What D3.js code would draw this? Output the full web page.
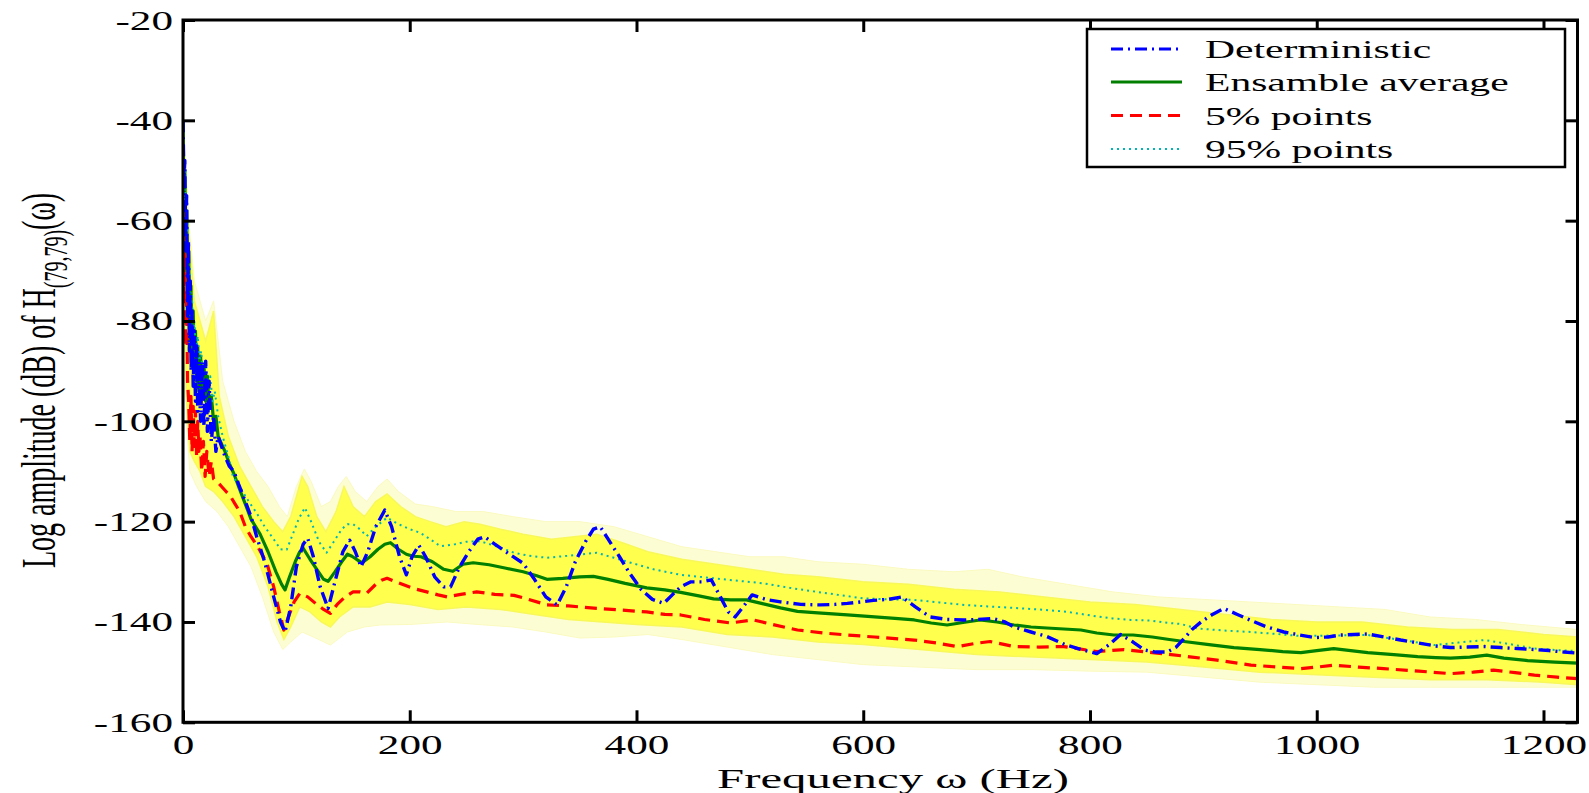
<!DOCTYPE html>
<html>
<head>
<meta charset="utf-8">
<script src="https://cdn.jsdelivr.net/npm/d3@7"></script>
<style>
  html, body { margin: 0; padding: 0; background: #fff; }
  svg { display: block; }
  text { font-family: "Liberation Serif", "Times New Roman", serif; fill: #000; }
</style>
</head>
<body>
<svg id="chart" width="1589" height="793"></svg>
<script>
// ---------- data ----------
const xTicks = [0, 200, 400, 600, 800, 1000, 1200];
const yTicks = [-160, -140, -120, -100, -80, -60, -40, -20];
const seriesNames = ["Deterministic", "Ensamble average", "5% points", "95% points"];
const xLabel = "Frequency \u03c9 (Hz)";

const deterministic = [[0,-40],[0.8,-52],[1.6,-48],[2.4,-66],[3.2,-55],[4,-79],[4.8,-64],[5.6,-86],[6.4,-72],[7.2,-90],[8,-78],[9,-93],[10,-82],[11,-96],[12,-85],[13,-98],[14,-88],[15.5,-100],[17,-88],[18.5,-101],[20,-88],[21.5,-102],[23,-92],[25,-104],[27,-99],[29,-106],[31,-103],[34,-105],[37,-107],[41,-109],[45,-110],[49,-112.5],[55,-116],[60,-119],[65,-123],[72,-128],[80,-135],[86,-140],[90,-142],[95,-137],[100,-129],[106,-124.5],[110,-123.3],[115,-127],[121,-133],[128,-137.3],[134,-132],[141,-126],[147,-123.7],[152,-126],[157,-129],[163,-126],[170,-121],[178,-117.7],[184,-121],[191,-127],[197,-130.6],[202,-127],[208,-124.7],[214,-127],[222,-131],[230,-133],[236,-133],[244,-129],[252,-126],[260,-123.5],[266,-123],[275,-124.5],[288,-126.5],[300,-128.3],[310,-131.5],[320,-135],[330,-136.6],[338,-133],[346,-128],[355,-124],[362,-121.5],[368,-121],[375,-123.5],[385,-127],[394,-130.3],[404,-133.5],[414,-135.5],[424,-136.3],[432,-134.5],[439,-133],[448,-132],[458,-132],[466,-131.6],[474,-135],[481,-138],[487,-139],[494,-137],[502,-134.6],[514,-135.5],[527,-136],[545,-136.5],[562,-136.6],[575,-136.5],[586,-136.3],[598,-136],[609,-135.7],[622,-135.5],[634,-135],[646,-137],[659,-139],[674,-139.5],[689,-139.6],[700,-139.5],[714,-139.3],[725,-140],[733,-141],[748,-142],[762,-142.9],[778,-144.5],[792,-145.5],[806,-146.3],[817,-144.5],[827,-142.5],[838,-144],[848,-145.6],[858,-146],[868,-146],[876,-145],[883,-143.3],[890,-141.5],[898,-140],[908,-138.5],[918,-137.3],[930,-138.5],[942,-139.7],[956,-141],[971,-142],[985,-142.6],[998,-143.1],[1010,-143],[1021,-142.6],[1033,-142.5],[1045,-142.4],[1060,-143],[1074,-143.6],[1090,-144.2],[1105,-144.8],[1118,-145.1],[1133,-145],[1148,-144.9],[1162,-145.1],[1177,-145.3],[1192,-145.5],[1205,-145.7],[1218,-146],[1230,-146.2]];

const ensembleAverage = [[0,-40],[0.8,-60],[1.6,-50],[2.4,-70],[3.2,-58],[4,-78],[5,-66],[6,-84],[7,-73],[8,-88],[9,-78],[10,-90],[11,-82],[12,-92],[13,-85],[14,-94],[15.5,-87],[17,-95],[18.5,-89],[20,-96],[21.5,-91],[23,-97],[25,-95],[27,-100],[29,-99],[31,-103],[33,-104],[37,-106],[41,-108.5],[45,-110.5],[49,-113],[55,-116.5],[60,-119.5],[68,-122.5],[75,-126],[82,-130],[87,-132.5],[90,-133.6],[94,-131],[99,-128],[103,-126],[106,-125.3],[112,-127.5],[118,-129.5],[124,-131.5],[128,-131.9],[134,-130],[140,-128],[145,-126.5],[149,-126.9],[153,-127.5],[158,-128.2],[165,-127],[172,-125.5],[178,-124.5],[183,-124.2],[190,-125.5],[197,-126.5],[203,-126.9],[210,-127],[220,-128],[230,-129.5],[238,-129.9],[247,-128.5],[256,-128.2],[270,-128.6],[285,-129.3],[300,-130],[312,-130.8],[321,-131.5],[335,-131.3],[350,-131],[362,-130.9],[375,-131.5],[390,-132.3],[409,-133.2],[425,-133.6],[439,-134.1],[455,-134.8],[468,-135.4],[483,-135.6],[497,-135.6],[512,-136.4],[527,-137.2],[542,-137.9],[560,-138.2],[586,-138.6],[610,-139],[628,-139.3],[645,-139.6],[660,-140.2],[674,-140.6],[688,-140.1],[703,-139.6],[718,-140],[733,-140.6],[748,-141],[762,-141.2],[777,-141.4],[792,-141.6],[806,-142.2],[821,-142.6],[838,-142.6],[855,-143],[870,-143.5],[883,-143.9],[905,-144.5],[927,-145.1],[950,-145.5],[970,-145.9],[986,-146.1],[1000,-145.7],[1015,-145.3],[1030,-145.7],[1045,-146.1],[1068,-146.5],[1089,-146.9],[1105,-147.1],[1118,-147.2],[1135,-147],[1150,-146.6],[1165,-147.2],[1186,-147.7],[1210,-148],[1230,-148.2]];

const points5 = [[0,-58],[0.8,-75],[1.6,-66],[2.4,-85],[3.2,-74],[4,-92],[5,-96],[6,-104],[7,-95],[8,-106],[9,-97],[10,-105],[11,-98],[12,-107],[13,-100],[14,-106],[15,-103],[16.5,-110],[18,-104],[19.5,-111],[21,-106],[23,-111],[25,-108],[27,-111.5],[30,-112],[34,-113],[38,-114],[42,-115],[46,-116.5],[50,-118],[55,-121],[60,-123],[66,-125],[74,-128.3],[80,-133],[85,-138],[89,-141.6],[93,-139],[98,-136],[103,-134.3],[110,-135],[118,-136.5],[124,-137.5],[130,-138.3],[136,-136.5],[143,-135],[150,-134],[156,-134],[162,-134.3],[170,-132.5],[175,-131.7],[180,-131.3],[190,-132.2],[203,-133.3],[215,-134],[225,-134.6],[233,-135],[245,-134.5],[259,-134],[275,-134.5],[292,-134.7],[305,-135.5],[321,-136.6],[340,-136.8],[365,-137.3],[385,-137.6],[409,-138],[425,-138.5],[439,-138.6],[460,-139.5],[483,-140.2],[503,-139.6],[520,-140.5],[542,-141.6],[565,-142.2],[586,-142.6],[610,-143],[645,-143.6],[665,-144.2],[683,-144.9],[698,-144.3],[712,-143.9],[733,-144.9],[755,-145],[777,-144.9],[806,-145.9],[830,-145.5],[850,-146],[868,-146.4],[890,-147],[912,-147.6],[942,-148.6],[966,-149],[986,-149.3],[1000,-149],[1015,-148.6],[1037,-149],[1059,-149.3],[1090,-149.8],[1118,-150.3],[1138,-150],[1156,-149.6],[1175,-150.1],[1192,-150.6],[1212,-151],[1230,-151.3]];

const points95 = [[0,-40],[1,-56],[2,-50],[3,-66],[4,-60],[5,-74],[6,-69],[7,-80],[8,-75],[9,-84],[10,-80],[11.5,-86],[13,-83],[14.5,-88],[16,-86],[18,-91],[20,-88],[22,-93],[24,-91],[26,-96],[28,-94],[31,-99],[35,-103],[40,-107],[44,-111],[50,-113],[58,-116],[65,-118.3],[72,-121],[80,-123.5],[86,-125.5],[91.5,-125.6],[96,-123],[102,-119.5],[107.5,-117.2],[113,-120],[120,-124],[126.6,-126.2],[133,-124],[140,-121.5],[145,-120.5],[150,-120.5],[156,-121.5],[162,-122.9],[170,-121],[180,-119.2],[190,-120.5],[200,-121.5],[209,-122.2],[218,-123.5],[227,-124.9],[240,-124.5],[250,-124],[262,-123.9],[275,-124.8],[292,-126.2],[305,-126.8],[321,-127.2],[340,-126.8],[365,-126.2],[380,-127.2],[395,-128.2],[415,-129.5],[439,-130.6],[468,-131.3],[490,-131.8],[512,-132.3],[535,-133.2],[556,-133.9],[578,-134.6],[600,-135.3],[622,-135.5],[645,-135.6],[667,-136.1],[689,-136.6],[710,-136.9],[733,-137.2],[755,-137.5],[777,-137.9],[792,-138.4],[806,-138.9],[820,-139.3],[836,-139.6],[853,-139.7],[870,-140.2],[880,-140.4],[895,-141.3],[918,-141.7],[942,-142],[965,-142.4],[986,-142.8],[1015,-142.7],[1045,-142.6],[1075,-143.6],[1104,-144.6],[1125,-144.1],[1148,-143.6],[1170,-144.4],[1192,-145.3],[1212,-145.6],[1230,-145.8]];

// spread of the individual realisations (yellow): dense core and faint outer envelope
const coreUpper = [[0,-40],[5,-62],[10,-76],[15,-80],[20,-84],[27,-78],[32,-95],[40,-103],[50,-109],[60,-113],[70,-117],[80,-120],[88,-122],[95,-119],[100,-115],[105,-111],[110,-113],[118,-119],[126,-122],[135,-118],[142,-113],[150,-117],[160,-119],[170,-116],[180,-114.5],[192,-117],[205,-119],[218,-120],[232,-121],[248,-120],[262,-120.5],[280,-121.5],[300,-122.5],[325,-123.5],[345,-123],[365,-122.5],[385,-124],[410,-126],[440,-127.5],[470,-128.5],[500,-129.5],[530,-130.5],[560,-131],[600,-132],[640,-132.5],[680,-133.5],[720,-134],[760,-135],[800,-136],[840,-136.5],[880,-137.5],[920,-138.5],[960,-139.5],[1000,-140],[1040,-140],[1080,-141],[1120,-141.5],[1160,-141.5],[1200,-142.5],[1230,-143]];
const coreLower = [[0,-60],[3,-95],[6,-106],[10,-108],[15,-110],[20,-113],[27,-114],[35,-116],[45,-119],[55,-123],[65,-127],[75,-133],[83,-140],[89,-143.5],[95,-141],[103,-137],[112,-138],[122,-140],[130,-141],[138,-139],[150,-137],[165,-137],[180,-136],[200,-136.5],[225,-137.5],[250,-137],[280,-137.5],[310,-138.5],[340,-139.5],[370,-140],[400,-140.5],[440,-141],[480,-142.5],[520,-143],[560,-144],[600,-144.5],[650,-145.5],[700,-146.5],[750,-147],[800,-147.5],[850,-148],[900,-149],[950,-150],[1000,-150.5],[1050,-151],[1100,-151.5],[1150,-151.5],[1200,-152],[1230,-152.5]];
const haloUpper = [[0,-40],[5,-60],[10,-72],[15,-76],[20,-80],[27,-76],[35,-92],[45,-100],[55,-106],[65,-110],[75,-113],[85,-117],[92,-119],[100,-113],[107,-109.5],[113,-112],[122,-117],[130,-116],[137,-113],[144,-111],[152,-114],[162,-116],[172,-113],[180,-111.5],[190,-114],[205,-116.5],[220,-117],[241,-118],[265,-118],[291,-119],[320,-120],[350,-120],[380,-121],[410,-123],[440,-125],[470,-126],[500,-127],[530,-127],[560,-128],[600,-128.5],[640,-129.5],[680,-130],[710,-129.5],[740,-131],[780,-132.5],[820,-134],[860,-135],[900,-135.5],[940,-136],[980,-136.5],[1020,-137],[1060,-137.5],[1100,-139],[1140,-139.5],[1180,-140.5],[1230,-141.5]];
const haloLower = [[0,-62],[3,-100],[6,-110],[12,-113],[20,-116],[30,-118],[40,-121],[50,-125],[60,-129],[70,-135],[80,-142],[88,-145.5],[95,-144],[105,-142],[115,-143],[130,-144.6],[145,-142],[160,-141],[174,-140.6],[200,-140.5],[233,-140],[260,-140.5],[291,-141],[320,-142],[350,-143.2],[380,-143],[410,-142.5],[440,-143.5],[480,-145],[520,-146.5],[560,-147.5],[600,-148.5],[650,-149],[700,-149.5],[750,-149.5],[800,-149.8],[850,-150],[900,-151],[950,-152],[1000,-152.5],[1050,-153],[1100,-153],[1150,-153],[1200,-153],[1230,-153]];

// ---------- drawing ----------
const svg = d3.select("#chart");
const X0 = 183, X1 = 1577.5, Y0 = 20, Y1 = 722.3;
const SX = 1.6; // horizontal glyph stretch of the original figure

const x = d3.scaleLinear().domain([0, 1230]).range([X0, X1]);
const y = d3.scaleLinear().domain([-160, -20]).range([Y1, Y0]);

svg.append("defs").append("clipPath").attr("id", "clip")
  .append("rect").attr("x", X0).attr("y", Y0).attr("width", X1 - X0).attr("height", Y1 - Y0);

const plot = svg.append("g").attr("clip-path", "url(#clip)");

function bandPath(upper, lower) {
  const pts = upper.map(d => [x(d[0]), y(d[1])])
    .concat(lower.slice().reverse().map(d => [x(d[0]), y(d[1])]));
  return d3.line()(pts) + "Z";
}
plot.append("path").attr("d", bandPath(haloUpper, haloLower))
  .attr("fill", "#fdfdd4").attr("stroke", "#fafac0").attr("stroke-width", 1);
plot.append("path").attr("d", bandPath(coreUpper, coreLower))
  .attr("fill", "#ffff4d").attr("stroke", "#f8f85a").attr("stroke-width", 1.5);

const line = d3.line().x(d => x(d[0])).y(d => y(d[1]));

const styles = [
  { data: ensembleAverage, color: "#007f00", width: 3.2, dash: null },
  { data: points5, color: "#ff0000", width: 3.2, dash: "12,7" },
  { data: points95, color: "#00b5b5", width: 2, dash: "2,4" },
  { data: deterministic, color: "#0000ff", width: 3.4, dash: "12,5,2,5" }
];
styles.forEach(s => {
  plot.append("path").datum(s.data).attr("d", line)
    .attr("fill", "none").attr("stroke", s.color).attr("stroke-width", s.width)
    .attr("stroke-dasharray", s.dash).attr("stroke-linejoin", "round");
});

// axes (ticks on all four sides, pointing inward)
function styleAxis(g) {
  g.select(".domain").remove();
  g.selectAll(".tick line").attr("stroke", "#000").attr("stroke-width", 3);
}
const fmt = d => String(d);

const gB = svg.append("g").attr("transform", `translate(0,${Y1})`)
  .call(d3.axisBottom(x).tickValues(xTicks).tickSize(-12).tickFormat(fmt));
styleAxis(gB);
gB.selectAll(".tick text")
  .attr("y", null).attr("dy", null).attr("x", null)
  .attr("transform", `translate(0,32) scale(${SX},1)`)
  .attr("text-anchor", "middle")
  .style("font-family", "'Liberation Serif', serif").style("font-size", "27px");

const gL = svg.append("g").attr("transform", `translate(${X0},0)`)
  .call(d3.axisLeft(y).tickValues(yTicks).tickSize(-12).tickFormat(fmt));
styleAxis(gL);
gL.selectAll(".tick text")
  .attr("x", null).attr("dy", null).attr("y", null)
  .attr("transform", `translate(-10,9) scale(${SX},1)`)
  .attr("text-anchor", "end")
  .style("font-family", "'Liberation Serif', serif").style("font-size", "27px");

const gT = svg.append("g").attr("transform", `translate(0,${Y0})`)
  .call(d3.axisTop(x).tickValues(xTicks).tickSize(-12).tickFormat(""));
styleAxis(gT);
const gR = svg.append("g").attr("transform", `translate(${X1},0)`)
  .call(d3.axisRight(y).tickValues(yTicks).tickSize(-12).tickFormat(""));
styleAxis(gR);

// frame
svg.append("rect").attr("x", X0).attr("y", Y0).attr("width", X1 - X0).attr("height", Y1 - Y0)
  .attr("fill", "none").attr("stroke", "#000").attr("stroke-width", 3);

// x label
svg.append("text")
  .attr("transform", `translate(893,788) scale(${SX},1)`)
  .attr("text-anchor", "middle")
  .style("font-size", "28px")
  .attr("textLength", 352 / SX).attr("lengthAdjust", "spacingAndGlyphs")
  .text(xLabel);

// y label (rotated, glyph height stretched)
const yl = svg.append("text")
  .attr("transform", "translate(55,568) rotate(-90) scale(1,1.7)")
  .attr("text-anchor", "start")
  .style("font-size", "28px");
yl.append("tspan").text("Log amplitude (dB) of H");
yl.append("tspan").attr("dy", 7).style("font-size", "20px").text("(79,79)");
yl.append("tspan").attr("dy", -7).text("(\u03c9)");

// legend
const LX = 1087, LY = 29, LW = 478, LH = 138;
svg.append("rect").attr("x", LX).attr("y", LY).attr("width", LW).attr("height", LH)
  .attr("fill", "#fff").attr("stroke", "#000").attr("stroke-width", 2.5);
const legendStyles = [styles[3], styles[0], styles[1], styles[2]];
const rowY = [49, 82, 115.5, 149];
seriesNames.forEach((name, i) => {
  const s = legendStyles[i];
  svg.append("line").attr("x1", 1111).attr("x2", 1182).attr("y1", rowY[i]).attr("y2", rowY[i])
    .attr("stroke", s.color).attr("stroke-width", s.width === 2 ? 2 : 3)
    .attr("stroke-dasharray", s.dash);
  svg.append("text")
    .attr("transform", `translate(1205,${rowY[i] + 9}) scale(${SX},1)`)
    .style("font-size", "26px")
    .text(name);
});
</script>
</body>
</html>
